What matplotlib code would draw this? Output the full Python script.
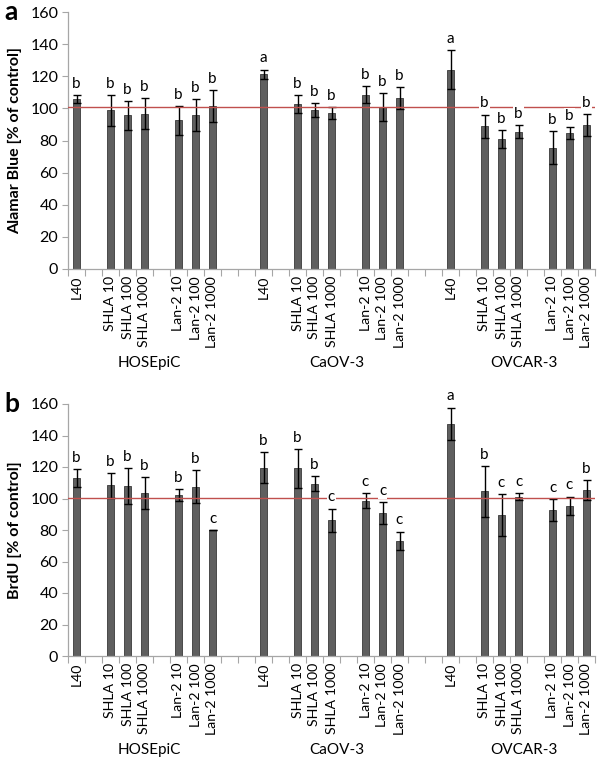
import matplotlib
matplotlib.use("Agg")
import matplotlib.pyplot as plt
import numpy as np

plt.rcParams['font.family'] = ['Lato', 'DejaVu Sans']

groups = ['HOSEpiC', 'CaOV-3', 'OVCAR-3']
treatments = ['L40', 'SHLA 10', 'SHLA 100', 'SHLA 1000', 'Lan-2 10', 'Lan-2 100', 'Lan-2 1000']

# Panel a: Alamar Blue
alamar_mean = [
    [105.8, 98.8, 95.7, 96.7, 92.5, 96.0, 101.5],
    [121.2, 102.7, 98.8, 96.9, 108.5, 100.8, 106.5],
    [124.1, 88.8, 80.9, 85.5, 75.5, 84.5, 89.9],
]
alamar_err = [
    [2.5, 9.5, 9.0, 9.5, 9.0, 9.8, 9.7],
    [3.0, 5.6, 4.3, 3.7, 5.2, 8.5, 6.6],
    [12.0, 7.3, 5.8, 4.0, 10.4, 3.7, 6.8],
]
alamar_letters = [
    ['b', 'b', 'b', 'b', 'b', 'b', 'b'],
    ['a', 'b', 'b', 'b', 'b', 'b', 'b'],
    ['a', 'b', 'b', 'b', 'b', 'b', 'b'],
]

# Panel b: BrdU
brdu_mean = [
    [112.9, 108.4, 107.8, 103.6, 102.3, 107.4, 80.1],
    [119.6, 119.2, 109.5, 86.2, 98.7, 90.5, 73.3],
    [147.3, 104.6, 89.6, 101.2, 92.8, 95.3, 105.3],
]
brdu_err = [
    [5.7, 8.0, 11.4, 10.0, 3.8, 10.4, 0.0],
    [9.7, 12.3, 4.6, 7.4, 4.6, 7.0, 5.7],
    [10.4, 16.1, 13.1, 2.1, 7.0, 5.9, 6.5],
]
brdu_letters = [
    ['b', 'b', 'b', 'b', 'b', 'b', 'c'],
    ['b', 'b', 'b', 'c', 'c', 'c', 'c'],
    ['a', 'b', 'c', 'c', 'c', 'c', 'b'],
]

control_a = 101
control_b = 100.4

# layout: slot offsets within a group (gaps between sub-groups), group starts
slot_in_group = [0, 2, 3, 4, 6, 7, 8]
group_start = [0, 11, 22]
n_slots = 31

fig = plt.figure(figsize=(6.0, 7.62), dpi=100)
ax_a = fig.add_axes([68/600, 1-269/762, 527/600, 257/762])
ax_b = fig.add_axes([68/600, 1-656/762, 527/600, 252/762])

bar_color = '#5f5f5f'
edge_color = '#3a3a3a'
spine_color = '#a6a6a6'


def draw(ax, means, errs, letters, ylabel, control, panel):
    xs, vals, es, labs, lets = [], [], [], [], []
    for g in range(3):
        for t in range(7):
            xs.append(group_start[g] + slot_in_group[t])
            vals.append(means[g][t])
            es.append(errs[g][t])
            labs.append(treatments[t])
            lets.append(letters[g][t])
    xs = np.array(xs)
    ax.bar(xs, vals, width=0.4, color=bar_color, edgecolor=edge_color,
           linewidth=0.6, zorder=2)
    ax.errorbar(xs, vals, yerr=es, fmt='none', ecolor='black', elinewidth=1.0,
                capsize=2.6, capthick=1.0, zorder=3)
    ax.axhline(control, color='#c0504d', lw=1.0, zorder=4)
    for x, v, e, l in zip(xs, vals, es, lets):
        ax.annotate(l, (x, v + e), xytext=(0, 3), textcoords='offset points',
                    ha='center', va='bottom', fontsize=11, zorder=5,
                    bbox=dict(boxstyle='square,pad=0.05', fc='white', ec='none'))
    ax.set_xlim(-0.5, n_slots - 0.5)
    ax.set_ylim(0, 160)
    ax.set_yticks(np.arange(0, 161, 20))
    ax.set_xticks(xs)
    ax.set_xticklabels(labs, rotation=90, fontsize=10.2)
    ax.set_xticks(np.arange(-0.5, n_slots, 1), minor=True)
    ax.tick_params(axis='x', which='major', length=0, pad=5)
    ax.tick_params(axis='x', which='minor', length=5, color=spine_color, width=0.8)
    ax.tick_params(axis='y', length=4, color=spine_color, width=0.8, labelsize=11.5, pad=3)
    for s in ['top', 'right']:
        ax.spines[s].set_visible(False)
    for s in ['left', 'bottom']:
        ax.spines[s].set_color(spine_color)
        ax.spines[s].set_linewidth(0.9)
    ax.set_ylabel(ylabel, fontsize=11.5, fontweight='bold', labelpad=6)
    for g in range(3):
        cx = group_start[g] + 4.3
        ax.annotate(groups[g], (cx, 0), xycoords=('data', 'axes fraction'),
                    xytext=(0, -68), textcoords='offset points',
                    ha='center', va='center', fontsize=11, annotation_clip=False)
    ax.text(-0.12, 1.0, panel, transform=ax.transAxes, fontsize=19,
            fontweight='bold', ha='left', va='center')


draw(ax_a, alamar_mean, alamar_err, alamar_letters, 'Alamar Blue [% of control]', control_a, 'a')
draw(ax_b, brdu_mean, brdu_err, brdu_letters, 'BrdU [% of control]', control_b, 'b')

fig.savefig('out.png', dpi=100, facecolor='white')
